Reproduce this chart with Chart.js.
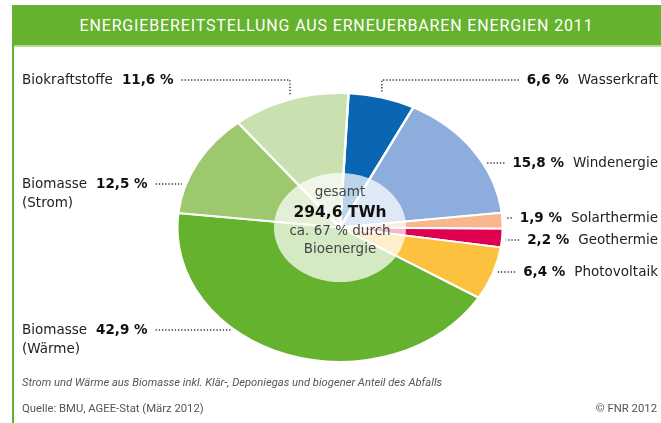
<!DOCTYPE html>
<html lang="de">
<head>
<meta charset="utf-8">
<title>Energiebereitstellung aus erneuerbaren Energien 2011</title>
<script src="https://cdn.jsdelivr.net/npm/chart.js@4.4.1/dist/chart.umd.min.js"></script>
<style>
  html, body { margin: 0; padding: 0; background: #fff; }
  body { width: 661px; height: 423px; position: relative; overflow: hidden; }
  #titel {
    position: absolute; left: 12px; top: 5px; width: 649px; height: 40px;
    background: #64b22e; color: #fff; font-family: Roboto, sans-serif;
    font-size: 16px; line-height: 41px; text-align: center; letter-spacing: 0.85px;
  }
  #linie { position: absolute; left: 12px; top: 45px; width: 649px; height: 2px; background: #b5dc92; }
  #rand { position: absolute; left: 12px; top: 45px; width: 2px; height: 378px; background: #64b22e; }
  #chart { position: absolute; left: 0; top: 0; }
  .fuss { position: absolute; font-family: Roboto, sans-serif; color: #555; white-space: nowrap; }
  #hinweis { left: 22px; top: 376px; font-size: 11.2px; font-style: italic; }
  #quelle { left: 22px; top: 402px; font-size: 11.3px; }
  #copy { right: 4px; top: 402px; font-size: 11.3px; }
</style>
</head>
<body>
<div id="titel">ENERGIEBEREITSTELLUNG AUS ERNEUERBAREN ENERGIEN 2011</div>
<div id="linie"></div>
<div id="rand"></div>
<canvas id="chart" width="661" height="423"></canvas>
<div class="fuss" id="hinweis">Strom und Wärme aus Biomasse inkl. Klär-, Deponiegas und biogener Anteil des Abfalls</div>
<div class="fuss" id="quelle">Quelle: BMU, AGEE-Stat (März 2012)</div>
<div class="fuss" id="copy">© FNR 2012</div>

<script>
// Daten (Anteile in %), im Uhrzeigersinn ab 12 Uhr
const categories = ['Wasserkraft', 'Windenergie', 'Solarthermie', 'Geothermie', 'Photovoltaik',
                    'Biomasse (Wärme)', 'Biomasse (Strom)', 'Biokraftstoffe'];
const shares = [6.6, 15.8, 1.9, 2.2, 6.4, 42.9, 12.5, 11.6];
const centerLines = ['gesamt', '294,6 TWh', 'ca. 67 % durch', 'Bioenergie'];

// Farben
const sliceColors = ['#0a66b2', '#8daedd', '#f7b68c', '#df0050', '#fcc23f', '#64b22e', '#9ec86d', '#c9e1b1'];

// Beschriftung: Seite, Höhe, Art der Hilfslinie
const labelLayout = [
  { side: 'right', y: 80,  leader: 'v' },
  { side: 'right', y: 163, leader: 'h' },
  { side: 'right', y: 218, leader: 'h' },
  { side: 'right', y: 240, leader: 'h' },
  { side: 'right', y: 272, leader: 'h' },
  { side: 'left',  y: 330, leader: 'h' },
  { side: 'left',  y: 184, leader: 'h' },
  { side: 'left',  y: 80,  leader: 'v' }
];

const STRETCH = 1.21;       // Ellipse: breiter als hoch
const INNER = 0.406;        // heller Innenkreis
const NAME_FONT = '13.5px "DejaVu Sans", sans-serif';
const VALUE_FONT = 'bold 13.5px "DejaVu Sans", sans-serif';

function fmt(v) {
  return v.toFixed(1).replace('.', ',') + ' %';
}

function dotted(ctx, pts) {
  ctx.save();
  ctx.strokeStyle = '#333';
  ctx.lineWidth = 1.4;
  ctx.setLineDash([1.3, 1.9]);
  ctx.beginPath();
  ctx.moveTo(pts[0][0], pts[0][1]);
  for (let i = 1; i < pts.length; i++) ctx.lineTo(pts[i][0], pts[i][1]);
  ctx.stroke();
  ctx.restore();
}

// Kreis zur Ellipse strecken + heller Innenbereich
const ellipsePlugin = {
  id: 'ellipse',
  beforeDatasetsDraw(chart) {
    const arc = chart.getDatasetMeta(0).data[0];
    const ctx = chart.ctx;
    ctx.save();
    ctx.translate(arc.x, arc.y);
    ctx.scale(STRETCH, 1);
    ctx.translate(-arc.x, -arc.y);
  },
  afterDatasetsDraw(chart) {
    const arc = chart.getDatasetMeta(0).data[0];
    const ctx = chart.ctx;
    ctx.beginPath();
    ctx.arc(arc.x, arc.y, arc.outerRadius * INNER, 0, Math.PI * 2);
    ctx.fillStyle = 'rgba(255,255,255,0.72)';
    ctx.fill();
    ctx.restore();
  }
};

// Beschriftungen mit gepunkteten Linien
const labelPlugin = {
  id: 'labels',
  afterDraw(chart) {
    const ctx = chart.ctx;
    const arcs = chart.getDatasetMeta(0).data;
    const cx = arcs[0].x, cy = arcs[0].y;
    const ry = arcs[0].outerRadius, rx = ry * STRETCH;

    ctx.save();
    ctx.textBaseline = 'middle';
    arcs.forEach((arc, i) => {
      const lay = labelLayout[i];
      const parts = categories[i].split(' (');
      const name = parts[0];
      const sub = parts[1] ? '(' + parts[1] : null;
      const val = fmt(shares[i]);
      const y = lay.y;

      let lineStart, lineEnd;
      if (lay.side === 'left') {
        ctx.textAlign = 'left';
        ctx.fillStyle = '#222';
        ctx.font = NAME_FONT;
        ctx.fillText(name, 22, y);
        const nw = ctx.measureText(name).width;
        ctx.font = VALUE_FONT;
        ctx.fillStyle = '#111';
        ctx.fillText(val, 22 + nw + 9, y);
        const vw = ctx.measureText(val).width;
        if (sub) {
          ctx.font = NAME_FONT;
          ctx.fillStyle = '#222';
          ctx.fillText(sub, 22, y + 19);
        }
        lineStart = 22 + nw + 9 + vw + 8;
      } else {
        ctx.textAlign = 'right';
        ctx.font = NAME_FONT;
        ctx.fillStyle = '#222';
        ctx.fillText(name, 658, y);
        const nw = ctx.measureText(name).width;
        ctx.font = VALUE_FONT;
        ctx.fillStyle = '#111';
        ctx.fillText(val, 658 - nw - 9, y);
        const vw = ctx.measureText(val).width;
        lineStart = 658 - nw - 9 - vw - 8;
      }

      if (lay.leader === 'v') {
        const mid = (arc.startAngle + arc.endAngle) / 2;
        const px = cx + rx * Math.cos(mid);
        const py = cy + ry * Math.sin(mid);
        dotted(ctx, [[lineStart, y], [px, y], [px, py - 5]]);
      } else {
        const dy = (y - cy) / ry;
        const half = rx * Math.sqrt(Math.max(0, 1 - dy * dy));
        lineEnd = lay.side === 'left' ? cx - half - 4 : cx + half + 4;
        dotted(ctx, [[lineStart, y], [lineEnd, y]]);
      }
    });

    // Text in der Mitte
    ctx.textAlign = 'center';
    const offs = [-35, -15, 4, 22];
    centerLines.forEach((t, k) => {
      ctx.font = k === 1 ? 'bold 15.5px "DejaVu Sans", sans-serif' : '13.5px "DejaVu Sans", sans-serif';
      ctx.fillStyle = k === 1 ? '#111' : '#444';
      ctx.fillText(t, cx, cy + offs[k]);
    });
    ctx.restore();
  }
};

new Chart(document.getElementById('chart'), {
  type: 'pie',
  data: {
    labels: categories,
    datasets: [{
      data: shares,
      backgroundColor: sliceColors,
      borderColor: '#fff',
      borderWidth: 2,
      clip: false
    }]
  },
  options: {
    responsive: false,
    animation: false,
    events: [],
    rotation: 3,
    layout: { padding: { top: 92, bottom: 60, left: 204.5, right: 185.5 } },
    plugins: {
      legend: { display: false },
      tooltip: { enabled: false }
    }
  },
  plugins: [ellipsePlugin, labelPlugin]
});
</script>
</body>
</html>
